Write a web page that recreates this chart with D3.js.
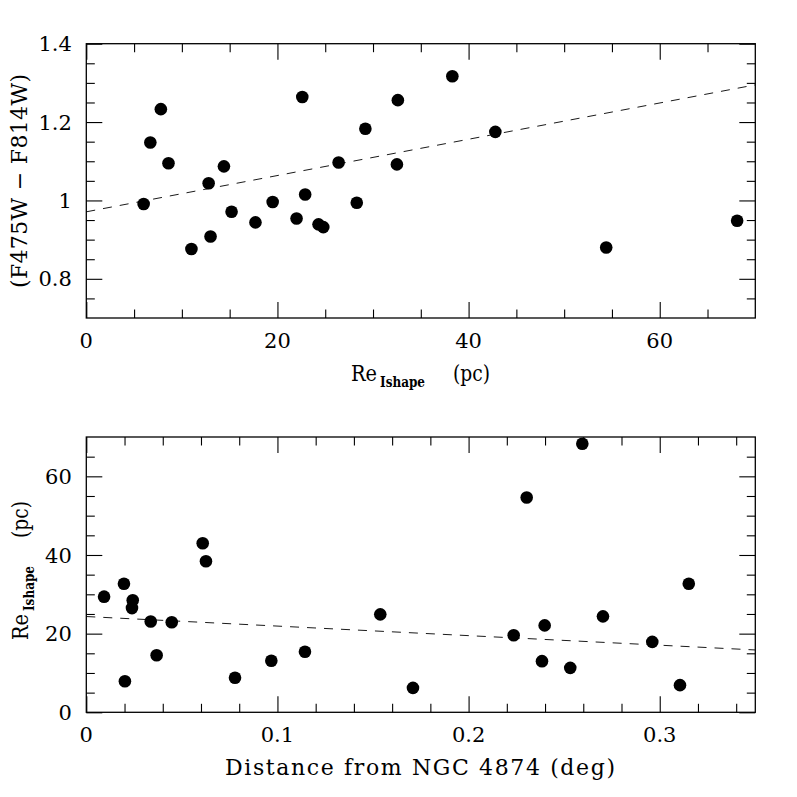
<!DOCTYPE html>
<html><head><meta charset="utf-8">
<script src="https://cdn.jsdelivr.net/npm/d3@7"></script>
<style>
html,body{margin:0;padding:0;background:#fff;}
svg text{font-family:"DejaVu Serif","Liberation Serif",serif;fill:#000;}
</style></head>
<body><svg id="c" width="797" height="797"></svg>
<script>
// ---- Top panel data: Re_Ishape (pc) vs colour ----
const topRe = [6.0, 6.7, 7.8, 8.6, 11.0, 12.8, 13.0, 14.4, 15.2, 17.7, 19.5, 22.0, 22.6, 22.9, 24.3, 24.8, 26.4, 28.3, 29.2, 32.6, 32.5, 38.3, 42.8, 54.4, 68.1];
const topColor = [0.991, 1.148, 1.233, 1.095, 0.876, 1.044, 0.908, 1.087, 0.971, 0.944, 0.996, 0.954, 1.264, 1.015, 0.939, 0.932, 1.097, 0.994, 1.183, 1.256, 1.092, 1.317, 1.175, 0.880, 0.948];
const topFitX = [0, 70];
const topFitY = [0.971, 1.295];
const topXMajor = [0, 20, 40, 60];
const topXMinor = [5, 10, 15, 25, 30, 35, 45, 50, 55, 65];
const topYMajor = [0.8, 1.0, 1.2, 1.4];
const topYMinor = [0.75, 0.85, 0.9, 0.95, 1.05, 1.1, 1.15, 1.25, 1.3, 1.35];

// ---- Bottom panel data: distance (deg) vs Re_Ishape (pc) ----
const botDist = [0.0093, 0.0197, 0.0202, 0.0243, 0.0239, 0.0337, 0.0368, 0.0447, 0.0609, 0.0626, 0.0778, 0.0968, 0.1144, 0.1538, 0.1709, 0.2236, 0.2304, 0.2384, 0.2398, 0.2532, 0.2595, 0.2703, 0.2961, 0.3106, 0.3152];
const botRe = [29.4, 32.7, 7.9, 28.5, 26.5, 23.1, 14.5, 22.9, 43.0, 38.4, 8.8, 13.1, 15.4, 24.9, 6.2, 19.6, 54.6, 13.0, 22.1, 11.3, 68.3, 24.4, 17.9, 6.9, 32.7];
const botFitX = [0, 0.35];
const botFitY = [24.35, 15.85];
const botXMajor = [0, 0.1, 0.2, 0.3];
const botXMinor = [0.02, 0.04, 0.06, 0.08, 0.12, 0.14, 0.16, 0.18, 0.22, 0.24, 0.26, 0.28, 0.32, 0.34];
const botYMajor = [0, 20, 40, 60];
const botYMinor = [5, 10, 15, 25, 30, 35, 45, 50, 55, 65];

const svg = d3.select("#c");
const L = 86.3, R = 755.3;
const fmt = d => String(+d.toFixed(2));

function panel(cfg) {
  const x = d3.scaleLinear().domain(cfg.xd).range([L, R]);
  const y = d3.scaleLinear().domain(cfg.yd).range([cfg.b, cfg.t]);
  const g = svg.append("g");
  const tickAxis = (axisFn, scale, vals, len, transform) => {
    const a = axisFn(scale).tickValues(vals).tickSize(-len).tickFormat("");
    const gg = g.append("g").attr("transform", transform).call(a);
    gg.select(".domain").remove();
    gg.selectAll("line").attr("stroke", "#000").attr("stroke-width", 1.1);
  };
  [[cfg.xMinor, 8.5], [cfg.xMajor, 16]].forEach(([v, l]) => {
    tickAxis(d3.axisBottom, x, v, l, `translate(0,${cfg.b})`);
    tickAxis(d3.axisTop, x, v, l, `translate(0,${cfg.t})`);
  });
  [[cfg.yMinor, 8.5], [cfg.yMajor, 16]].forEach(([v, l]) => {
    tickAxis(d3.axisLeft, y, v, l, `translate(${L},0)`);
    tickAxis(d3.axisRight, y, v, l, `translate(${R},0)`);
  });
  g.append("g").selectAll("text").data(cfg.xMajor).join("text")
    .attr("x", d => x(d)).attr("y", cfg.b + 30)
    .attr("text-anchor", "middle").attr("font-size", 21)
    .text(fmt);
  g.append("g").selectAll("text").data(cfg.yMajor).join("text")
    .attr("x", L - 14.5).attr("y", d => y(d)).attr("dy", "0.36em")
    .attr("text-anchor", "end").attr("font-size", 21)
    .text(fmt);
  g.append("rect").attr("x", L).attr("y", cfg.t).attr("width", R - L).attr("height", cfg.b - cfg.t)
    .attr("fill", "none").attr("stroke", "#000").attr("stroke-width", 1.3);
  const line = d3.line().x(d => x(d[0])).y(d => y(d[1]));
  g.append("path").datum(d3.zip(cfg.fitX, cfg.fitY)).attr("d", line)
    .attr("fill", "none").attr("stroke", "#000").attr("stroke-width", 0.9).attr("stroke-dasharray", "9,8");
  g.append("g").selectAll("circle").data(d3.zip(cfg.xs, cfg.ys)).join("circle")
    .attr("cx", d => x(d[0])).attr("cy", d => y(d[1])).attr("r", 6.3).attr("fill", "#000");
}

panel({xd: [0, 70], yd: [0.7, 1.4], t: 43.7, b: 318,
  xMajor: topXMajor, xMinor: topXMinor, yMajor: topYMajor, yMinor: topYMinor,
  fitX: topFitX, fitY: topFitY, xs: topRe, ys: topColor});
panel({xd: [0, 0.35], yd: [0, 70], t: 437, b: 712.3,
  xMajor: botXMajor, xMinor: botXMinor, yMajor: botYMajor, yMinor: botYMinor,
  fitX: botFitX, fitY: botFitY, xs: botDist, ys: botRe});

function reTitle(sel, x0) {
  sel.append("tspan").attr("x", x0).attr("font-size", 22).attr("textLength", 26).attr("lengthAdjust", "spacingAndGlyphs").text("Re");
  sel.append("tspan").attr("x", x0 + 29).attr("font-size", 14).attr("font-weight", "bold").attr("dy", 6)
    .attr("textLength", 45).attr("lengthAdjust", "spacingAndGlyphs").text("Ishape");
  sel.append("tspan").attr("x", x0 + 102).attr("font-size", 22).attr("dy", -6)
    .attr("textLength", 37).attr("lengthAdjust", "spacingAndGlyphs").text("(pc)");
}
reTitle(svg.append("text").attr("y", 381), 351);
svg.append("text").attr("x", 420).attr("y", 775).attr("text-anchor", "middle")
  .attr("font-size", 22).attr("textLength", 390).attr("lengthAdjust", "spacing")
  .text("Distance from NGC 4874 (deg)");
svg.append("text").attr("transform", "translate(27,181) rotate(-90)").attr("text-anchor", "middle")
  .attr("font-size", 22).attr("textLength", 214).attr("lengthAdjust", "spacing")
  .text("(F475W \u2212 F814W)");
reTitle(svg.append("text").attr("transform", "translate(28,640) rotate(-90)"), 0);
</script></body></html>
